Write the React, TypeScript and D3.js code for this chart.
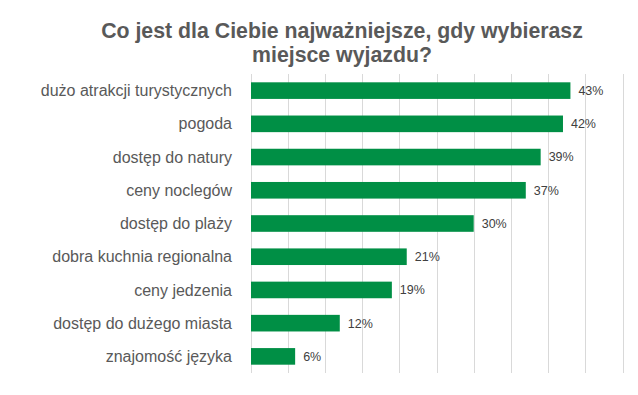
import { useEffect, useRef } from 'react';
import * as d3 from 'd3';

const categories = [
  'dużo atrakcji turystycznych',
  'pogoda',
  'dostęp do natury',
  'ceny noclegów',
  'dostęp do plaży',
  'dobra kuchnia regionalna',
  'ceny jedzenia',
  'dostęp do dużego miasta',
  'znajomość języka',
];
const values = [43, 42, 39, 37, 30, 21, 19, 12, 6];
const gridTicks = [0, 5, 10, 15, 20, 25, 30, 35, 40, 45, 50];
const titleLines = ['Co jest dla Ciebie najważniejsze, gdy wybierasz', 'miejsce wyjazdu?'];

const App = () => {
  const ref = useRef<SVGSVGElement>(null);

  useEffect(() => {
    const width = 638;
    const height = 395;
    const svg = d3.select(ref.current)
      .attr('width', width)
      .attr('height', height)
      .style('display', 'block')
      .style('background', '#fff');
    svg.selectAll('*').remove();

    const x = d3.scaleLinear().domain([0, 50]).range([250.5, 622.5]);
    const y = d3.scaleBand().domain(categories).range([74, 373]).paddingInner(0.5).paddingOuter(0.25);

    const font = "'Liberation Sans', Arial, sans-serif";

    // gridlines
    svg.append('g')
      .selectAll('line')
      .data(gridTicks)
      .join('line')
      .attr('x1', (d) => Math.round(x(d)) + 0.5)
      .attr('x2', (d) => Math.round(x(d)) + 0.5)
      .attr('y1', 74)
      .attr('y2', 373)
      .attr('stroke', '#D9D9D9')
      .attr('stroke-width', 1);

    // bars
    svg.append('g')
      .selectAll('rect')
      .data(values)
      .join('rect')
      .attr('x', x(0) + 0.5)
      .attr('y', (d, i) => y(categories[i])!)
      .attr('width', (d) => x(d) - x(0) - 0.5)
      .attr('height', y.bandwidth())
      .attr('fill', '#008F45');

    // value labels
    svg.append('g')
      .selectAll('text')
      .data(values)
      .join('text')
      .attr('x', (d) => x(d) + 8)
      .attr('y', (d, i) => y(categories[i])! + y.bandwidth() / 2)
      .attr('dy', '0.35em')
      .attr('font-family', font)
      .attr('font-size', '12.5px')
      .attr('fill', '#404040')
      .text((d) => `${d}%`);

    // category labels
    svg.append('g')
      .selectAll('text')
      .data(categories)
      .join('text')
      .attr('x', 232)
      .attr('y', (d) => y(d)! + y.bandwidth() / 2)
      .attr('dy', '0.35em')
      .attr('text-anchor', 'end')
      .attr('font-family', font)
      .attr('font-size', '16px')
      .attr('fill', '#595959')
      .text((d) => d);

    // title
    svg.append('g')
      .selectAll('text')
      .data(titleLines)
      .join('text')
      .attr('x', 342)
      .attr('y', (d, i) => 38 + i * 24)
      .attr('text-anchor', 'middle')
      .attr('font-family', font)
      .attr('font-weight', 'bold')
      .attr('font-size', '21.3px')
      .attr('fill', '#595959')
      .text((d) => d);
  }, []);

  return (
    <div style={{ margin: -8 }}>
      <svg ref={ref}></svg>
    </div>
  );
};

export default App;
